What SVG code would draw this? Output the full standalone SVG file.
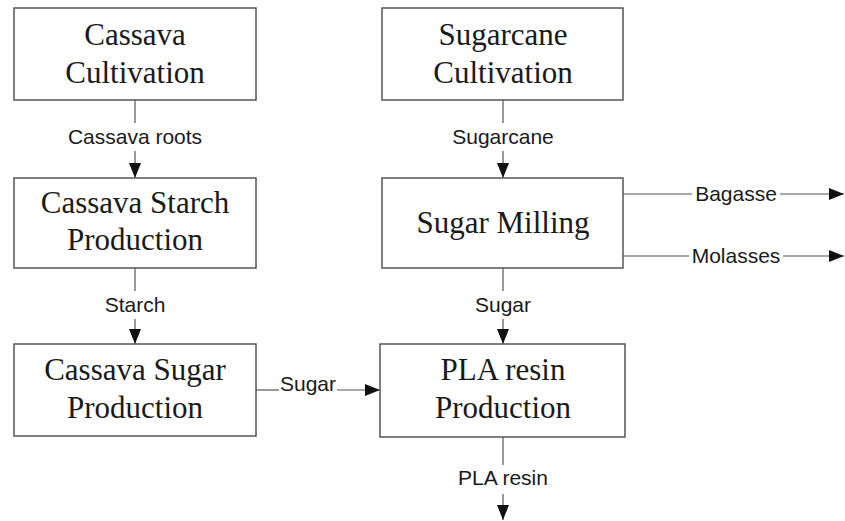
<svg xmlns="http://www.w3.org/2000/svg" width="845" height="521" viewBox="0 0 845 521">
  <style>
    .box rect { fill: #ffffff; stroke: #555555; stroke-width: 1.5; }
    .box text { font-family: "Liberation Serif", "Times New Roman", serif; font-size: 31px; fill: #1a1a1a; text-anchor: middle; }
    .edge { stroke: #555555; stroke-width: 1.2; fill: none; }
    .lbl { font-family: "Liberation Sans", Arial, sans-serif; font-size: 21px; fill: #1a1a1a; text-anchor: middle; }
  </style>
  <defs>
    <marker id="arrow" viewBox="0 0 15 12" refX="15" refY="6" markerWidth="15" markerHeight="12" markerUnits="userSpaceOnUse" orient="auto">
      <path d="M0,0 L15,6 L0,12 Z" fill="#111111"/>
    </marker>
  </defs>
  <rect width="845" height="521" fill="#ffffff"/>

  <g id="connectors">
    <!-- Cassava roots -->
    <line class="edge" x1="135" y1="100" x2="135" y2="123"/>
    <line class="edge" x1="135" y1="151" x2="135" y2="178" marker-end="url(#arrow)"/>
    <text class="lbl" x="135" y="144">Cassava roots</text>
    <!-- Starch -->
    <line class="edge" x1="135" y1="268" x2="135" y2="291"/>
    <line class="edge" x1="135" y1="319" x2="135" y2="344" marker-end="url(#arrow)"/>
    <text class="lbl" x="135" y="312">Starch</text>
    <!-- Sugarcane -->
    <line class="edge" x1="503" y1="100" x2="503" y2="123"/>
    <line class="edge" x1="503" y1="151" x2="503" y2="178" marker-end="url(#arrow)"/>
    <text class="lbl" x="503" y="144">Sugarcane</text>
    <!-- Sugar (from milling) -->
    <line class="edge" x1="503" y1="268" x2="503" y2="291"/>
    <line class="edge" x1="503" y1="319" x2="503" y2="344" marker-end="url(#arrow)"/>
    <text class="lbl" x="503" y="312">Sugar</text>
    <!-- Bagasse -->
    <line class="edge" x1="623" y1="194" x2="692" y2="194"/>
    <line class="edge" x1="780" y1="194" x2="844" y2="194" marker-end="url(#arrow)"/>
    <text class="lbl" x="736" y="201">Bagasse</text>
    <!-- Molasses -->
    <line class="edge" x1="623" y1="256" x2="689" y2="256"/>
    <line class="edge" x1="783" y1="256" x2="844" y2="256" marker-end="url(#arrow)"/>
    <text class="lbl" x="736" y="263">Molasses</text>
    <!-- Sugar (cassava to PLA) -->
    <line class="edge" x1="256" y1="390" x2="279" y2="390"/>
    <line class="edge" x1="337" y1="390" x2="380" y2="390" marker-end="url(#arrow)"/>
    <text class="lbl" x="308" y="391">Sugar</text>
    <!-- PLA resin -->
    <line class="edge" x1="503" y1="437" x2="503" y2="465"/>
    <line class="edge" x1="503" y1="494" x2="503" y2="520" marker-end="url(#arrow)"/>
    <text class="lbl" x="503" y="485">PLA resin</text>
  </g>

  <g id="cassava-cultivation" class="box">
    <rect x="14" y="8" width="242" height="92"/>
    <text x="135" y="45">Cassava</text>
    <text x="135" y="83">Cultivation</text>
  </g>
  <g id="cassava-starch-production" class="box">
    <rect x="14" y="178" width="242" height="90"/>
    <text x="135" y="213">Cassava Starch</text>
    <text x="135" y="250">Production</text>
  </g>
  <g id="cassava-sugar-production" class="box">
    <rect x="14" y="344" width="242" height="92"/>
    <text x="135" y="380">Cassava Sugar</text>
    <text x="135" y="418">Production</text>
  </g>
  <g id="sugarcane-cultivation" class="box">
    <rect x="382" y="8" width="241" height="92"/>
    <text x="503" y="45">Sugarcane</text>
    <text x="503" y="83">Cultivation</text>
  </g>
  <g id="sugar-milling" class="box">
    <rect x="382" y="178" width="241" height="90"/>
    <text x="503" y="233">Sugar Milling</text>
  </g>
  <g id="pla-resin-production" class="box">
    <rect x="380" y="344" width="245" height="93"/>
    <text x="503" y="380">PLA resin</text>
    <text x="503" y="418">Production</text>
  </g>
</svg>
